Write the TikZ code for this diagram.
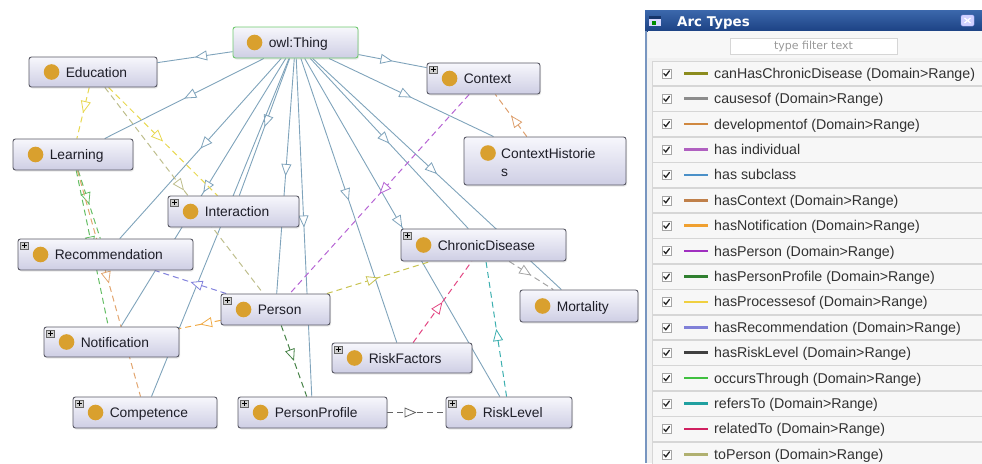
\documentclass[tikz,border=0pt]{standalone}
\usepackage{fontspec}
\setmainfont{Liberation Sans}
\newfontfamily\dejavu{DejaVu Sans}
\usetikzlibrary{arrows.meta,decorations.markings,fit,backgrounds,calc,shadows}

\definecolor{subcl}{RGB}{127,163,187}
\definecolor{dotc}{RGB}{217,160,46}
\definecolor{nodebd}{RGB}{88,88,100}
\definecolor{nodetop}{RGB}{247,247,252}
\definecolor{nodebot}{RGB}{206,206,228}
\definecolor{thingbd}{RGB}{110,200,110}
\definecolor{labeltxt}{RGB}{30,30,40}
% legend colours
\definecolor{cCHCD}{RGB}{140,140,30}
\definecolor{cCause}{RGB}{140,140,140}
\definecolor{cDev}{RGB}{208,136,64}
\definecolor{cInd}{RGB}{176,96,192}
\definecolor{cSub}{RGB}{74,144,200}
\definecolor{cCtx}{RGB}{192,128,74}
\definecolor{cNotif}{RGB}{240,160,48}
\definecolor{cPers}{RGB}{160,48,192}
\definecolor{cPP}{RGB}{48,128,48}
\definecolor{cProc}{RGB}{240,208,64}
\definecolor{cRec}{RGB}{128,128,216}
\definecolor{cRL}{RGB}{64,64,64}
\definecolor{cOcc}{RGB}{64,192,64}
\definecolor{cRef}{RGB}{32,160,160}
\definecolor{cRel}{RGB}{208,32,96}
\definecolor{cToP}{RGB}{176,176,112}
% edge colours in the graph
\definecolor{eCtx}{RGB}{222,160,110}
\definecolor{ePers}{RGB}{182,100,212}
\definecolor{eProc}{RGB}{232,216,80}
\definecolor{eToP}{RGB}{190,190,140}
\definecolor{eOcc}{RGB}{100,190,100}
\definecolor{eDev}{RGB}{226,166,112}
\definecolor{eRec}{RGB}{130,130,220}
\definecolor{eNotif}{RGB}{240,170,70}
\definecolor{eCHCD}{RGB}{200,195,80}
\definecolor{ePP}{RGB}{70,130,70}
\definecolor{eRL}{RGB}{100,100,100}
\definecolor{eRel}{RGB}{226,70,130}
\definecolor{eRef}{RGB}{60,175,175}
\definecolor{eCause}{RGB}{165,165,165}
% panel colours
\definecolor{panelbg}{RGB}{241,241,241}
\definecolor{rowbg}{RGB}{247,247,247}
\definecolor{rowbd}{RGB}{214,214,214}
\definecolor{titletop}{RGB}{60,104,172}
\definecolor{titlebot}{RGB}{28,66,132}
\definecolor{panelbd}{RGB}{120,150,192}
\definecolor{legtext}{RGB}{50,50,50}

\tikzset{
  cls/.style={draw=nodebd, line width=0.9pt, rounded corners=2.5pt,
    top color=nodetop, bottom color=nodebot, inner sep=0pt,
    drop shadow={shadow xshift=1pt, shadow yshift=-1.5pt, opacity=0.18}},
  lbl/.style={font=\fontsize{13.8}{16}\selectfont, text=labeltxt, inner sep=0pt},
  midarrow/.style={postaction={decorate}, decoration={markings,
    mark=at position 0.5 with {\arrow[line width=0.8pt]{Triangle[length=12pt, width=10pt, fill=white]}}}},
  sub/.style={draw=subcl, line width=0.9pt, midarrow},
  prop/.style={draw=#1, line width=1pt, dash pattern=on 6pt off 4pt, midarrow},
  legtxt/.style={font=\fontsize{14.2}{16}\selectfont, text=legtext, inner sep=0pt},
}

\newcommand\plusbox[1]{%
  \filldraw[fill=black!18, draw=black!60, line width=0.5pt] ($(#1.north west)+(3,3.5)$) rectangle ++(7.5,7.5);
  \draw[line width=0.8pt, black] ($(#1.north west)+(6.75,4.7)$) -- ++(0,5.1) ($(#1.north west)+(4.2,7.25)$) -- ++(5.1,0);
}
\newcommand\klass[7]{%
  \node[cls, fit={(#2,#3) (#4,#5)}] (#1) {};
  \fill[dotc] ($(#1.west)+(23,0)$) circle[radius=7.8pt];
  \node[lbl, anchor=base west] (#1-t) at ($(#1.west)+(37,5)$) {#6};
  \ifnum#7=1 \plusbox{#1}\fi
}

\begin{document}
\begin{tikzpicture}[x=1pt,y=-1pt]
\useasboundingbox (0,0) rectangle (982,463);

% ---------------- classes ----------------
\node[cls, draw=thingbd, fit={(233,27) (358,58)}] (thing) {};
\fill[dotc] ($(thing.west)+(22,0)$) circle[radius=7.8pt];
\node[lbl, anchor=base west] (thing-t) at ($(thing.west)+(36,5)$) {owl:Thing};

\klass{edu}{29}{57}{157}{87}{Education}{0}
\klass{ctx}{427}{63}{540}{94}{Context}{1}
\klass{learn}{13}{139}{133}{170}{Learning}{0}
\node[cls, fit={(464,137) (626,185)}] (ctxh) {};
\fill[dotc] (488,153) circle[radius=7.8pt];
\node[lbl, anchor=base west] (ctxh-t) at (501,158) {ContextHistorie};
\node[lbl, anchor=base west] (ctxh-s) at (501,176) {s};
\klass{inter}{168}{196}{299}{227}{Interaction}{1}
\klass{rec}{18}{239}{193}{270}{Recommendation}{1}
\klass{cd}{401}{229}{566}{261}{ChronicDisease}{1}
\klass{person}{221}{294}{330}{325}{Person}{1}
\klass{mort}{520}{290}{638}{322}{Mortality}{0}
\klass{notif}{44}{327}{179}{357}{Notification}{1}
\klass{rf}{332}{343}{472}{373}{RiskFactors}{1}
\klass{comp}{73}{397}{217}{428}{Competence}{1}
\klass{pp}{238}{397}{387}{428}{PersonProfile}{1}
\klass{rl}{446}{397}{572}{428}{RiskLevel}{1}

% ---------------- connectors ----------------
\begin{pgfonlayer}{background}
\foreach \t in {edu,ctx,learn,ctxh,inter,rec,cd,person,mort,notif,rf,comp,pp,rl}
  \draw[sub] (thing) -- (\t);
\draw[prop=eCtx] (ctxh) -- (ctx);
\draw[prop=ePers] (ctx) -- (person);
\draw[prop=eProc] (edu) -- (learn);
\draw[prop=eProc] (edu) -- (inter);
\draw[prop=eToP] (edu) -- (person);
\draw[prop=eOcc] (learn) -- (rec);
\draw[prop=eOcc] (learn) -- (notif);
\draw[prop=eDev] (learn) -- (comp);
\draw[prop=eRec] (person) -- (rec);
\draw[prop=eNotif] (person) -- (notif);
\draw[prop=eCHCD] (person) -- (cd);
\draw[prop=ePP] (person) -- (pp);
\draw[prop=eRL] (pp) -- (rl);
\draw[prop=eRel] (rf) -- (cd);
\draw[prop=eRef] (rl) -- (cd);
\draw[prop=eCause] (cd) -- (mort);
\end{pgfonlayer}

% ---------------- Arc Types panel ----------------
\fill[panelbg] (645,10) rectangle (982,463);
\shade[top color=titletop, bottom color=titlebot] (645,10) rectangle (982,31);
\draw[panelbd, line width=1.5pt] (646,31) -- (646,463);
\fill[white!85!blue] (649,16) rectangle (661,26);
\fill[titlebot!80!black] (649,16) rectangle (661,18.5);
\fill[green!55!black] (651.5,21) rectangle (656,24.5);
\node[anchor=base west, text=white, font=\dejavu\bfseries\fontsize{13.4}{15}\selectfont, inner sep=0pt] (title) at (677,26) {Arc Types};
\filldraw[fill=white!60!blue!45, draw=white!70!blue, rounded corners=1.5pt] (961,15) rectangle (974,26);
\draw[white, line width=1.2pt] (964.5,18) -- (970.5,23) (964.5,23) -- (970.5,18);
\fill[white!97!black] (648,31) rectangle (982,58);
\node[draw=rowbd, fill=white, minimum width=167pt, minimum height=16pt, inner sep=0pt,
  font=\dejavu\fontsize{11}{12}\selectfont, text=black!40] (filter) at (813.5,46) {type filter text};

\foreach \i/\c/\t in {
 0/cCHCD/{canHasChronicDisease (Domain>Range)},
 1/cCause/{causesof (Domain>Range)},
 2/cDev/{developmentof (Domain>Range)},
 3/cInd/{has individual},
 4/cSub/{has subclass},
 5/cCtx/{hasContext (Domain>Range)},
 6/cNotif/{hasNotification (Domain>Range)},
 7/cPers/{hasPerson (Domain>Range)},
 8/cPP/{hasPersonProfile (Domain>Range)},
 9/cProc/{hasProcessesof (Domain>Range)},
 10/cRec/{hasRecommendation (Domain>Range)},
 11/cRL/{hasRiskLevel (Domain>Range)},
 12/cOcc/{occursThrough (Domain>Range)},
 13/cRef/{refersTo (Domain>Range)},
 14/cRel/{relatedTo (Domain>Range)},
 15/cToP/{toPerson (Domain>Range)}} {
  \pgfmathsetmacro\yy{73.3+25.4*\i}
  \draw[fill=rowbg, draw=rowbd, line width=0.6pt] (652,\yy-12.4) rectangle (984,\yy+12.4);
  \draw[fill=white, draw=black!35, line width=0.5pt] (662,\yy-4.5) rectangle (671,\yy+4.5);
  \draw[line width=1.3pt, line cap=round, black!85] (663.8,\yy+0.2) -- (665.8,\yy+2.4) -- (669.4,\yy-2.4);
  \draw[\c, line width=2.6pt] (684,\yy) -- (708,\yy);
  \node[legtxt, anchor=base west] (lg\i) at (714,\yy+5) {\t};
}
\end{tikzpicture}
\end{document}
